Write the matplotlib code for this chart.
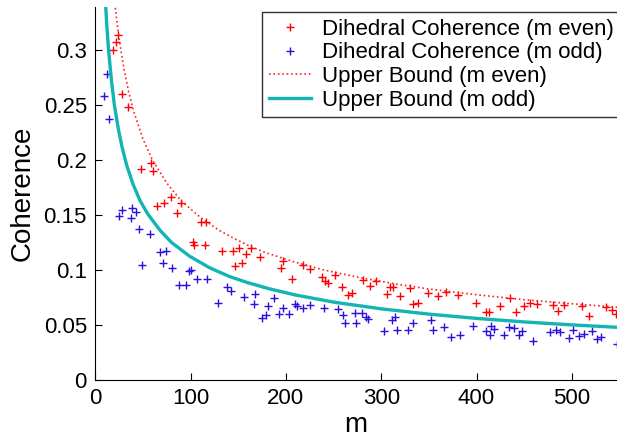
import matplotlib
matplotlib.use("Agg")
import matplotlib.pyplot as plt

plt.rcParams['font.family'] = ['Liberation Sans', 'DejaVu Sans']

# Dihedral coherence, m even (red +)
even_m = [18.3, 21.7, 23.5, 28.3, 34, 48, 58.5, 61, 65, 72, 79.4, 86, 89.6, 102, 104, 111, 115, 116,
          133, 145, 147, 151, 154, 158, 163, 173, 194.5, 197, 206.7, 218, 225, 237.5, 241, 244.5,
          251.5, 258.5, 265.5, 269, 281, 288, 295, 305.8, 309, 312.7, 319.7, 330, 333.7, 339,
          349.4, 360, 367.7, 381, 399, 410, 413.5, 424.7, 435, 441.5, 450, 456, 463, 480.6, 485,
          492, 511, 518, 535.6, 542, 546]
even_c = [0.300, 0.307, 0.314, 0.260, 0.248, 0.192, 0.197, 0.190, 0.1585, 0.1606, 0.1667, 0.152, 0.161,
          0.1257, 0.1227, 0.1433, 0.1227, 0.1433, 0.1176, 0.1176, 0.1039, 0.1203, 0.1067, 0.1145,
          0.1203, 0.112, 0.102, 0.1085, 0.0915, 0.1045, 0.1006, 0.0933, 0.0903, 0.0879, 0.0955,
          0.0848, 0.0773, 0.0794, 0.0909, 0.0855, 0.090, 0.0782, 0.0842, 0.0842, 0.0764, 0.0833,
          0.0691, 0.0703, 0.0788, 0.0764, 0.0803, 0.0773, 0.0697, 0.0621, 0.0621, 0.0673, 0.0742,
          0.0621, 0.0673, 0.0697, 0.0688, 0.0682, 0.0627, 0.0682, 0.0673, 0.0582, 0.0667, 0.0636,
          0.060]

# Dihedral coherence, m odd (blue +)
odd_m = [9, 12, 14.4, 25, 27.7, 37.5, 39, 43, 46, 49, 57, 68, 70.7, 74, 81, 88, 95, 98.8, 100.4, 107,
         117.5, 129, 138, 142.4, 156, 167, 168, 174.6, 179, 181.6, 188, 193, 197, 203.6, 210, 212,
         217.6, 225, 240, 255, 260, 262, 272, 274, 280, 284, 286.5, 303, 311, 314.5, 317, 327.8,
         333.7, 352, 354, 366, 373, 382.7, 396.7, 410, 414, 415, 418, 428.9, 434, 439, 444.6,
         447.4, 459, 477, 483, 488, 497, 501, 507.6, 512.8, 521.5, 526, 530.6, 547]
odd_c = [0.258, 0.278, 0.237, 0.149, 0.155, 0.147, 0.156, 0.153, 0.137, 0.105, 0.1327, 0.1167, 0.1067,
         0.1176, 0.1015, 0.0864, 0.0864, 0.0991, 0.100, 0.0915, 0.0915, 0.0697, 0.0848, 0.0812,
         0.0752, 0.0691, 0.0779, 0.0561, 0.0591, 0.0673, 0.0742, 0.0597, 0.0652, 0.0597, 0.0688,
         0.0673, 0.0652, 0.0682, 0.0652, 0.0642, 0.0591, 0.0515, 0.0612, 0.0515, 0.0612, 0.057,
         0.0552, 0.0445, 0.0545, 0.0576, 0.0455, 0.0455, 0.0515, 0.0545, 0.0455, 0.0485, 0.0388,
         0.0409, 0.0494, 0.0445, 0.0409, 0.049, 0.0464, 0.0409, 0.0479, 0.0476, 0.0409, 0.0448,
         0.0355, 0.0433, 0.0455, 0.0433, 0.0379, 0.0455, 0.0403, 0.0418, 0.0445, 0.037, 0.0394,
         0.0324]

# Upper bound curves
bound_even_m = [14, 18, 21, 25, 30, 35, 40, 50, 60, 75, 90, 110, 130, 145, 160, 178, 208, 240, 278,
                320, 348, 400, 450, 500, 550]
bound_even_c = [0.414, 0.365, 0.338, 0.310, 0.283, 0.262, 0.245, 0.219, 0.200, 0.179, 0.163, 0.148,
                0.136, 0.129, 0.1225, 0.116, 0.1075, 0.100, 0.093, 0.0866, 0.083, 0.0775, 0.073,
                0.0693, 0.066]
bound_odd_m = [10, 12, 14, 17, 20, 24, 28, 33, 40, 47, 55, 68, 80, 99, 120, 141, 160, 183, 210, 250,
               300, 350, 400, 450, 500, 550]
bound_odd_c = [0.354, 0.323, 0.299, 0.272, 0.250, 0.229, 0.212, 0.195, 0.177, 0.163, 0.151, 0.136,
               0.125, 0.1125, 0.102, 0.094, 0.0885, 0.0828, 0.0773, 0.0708, 0.0647, 0.0599, 0.056,
               0.0528, 0.0501, 0.0478]

W, H = 617, 441
fig = plt.figure(figsize=(W / 100, H / 100), dpi=100)
left_px, bottom_px, top_px = 95.3, 380, 7
ax = fig.add_axes([left_px / W, (H - bottom_px) / H, 1 - left_px / W, (bottom_px - top_px) / H])

ax.plot(even_m, even_c, '+', color='#ff0000', ms=6, mew=1.0, label='Dihedral Coherence (m even)')
ax.plot(odd_m, odd_c, '+', color='#2a0fe0', ms=6, mew=1.0, label='Dihedral Coherence (m odd)')
ax.plot(bound_even_m, bound_even_c, ':', color='#ff2020', lw=1.2, label='Upper Bound (m even)')
ax.plot(bound_odd_m, bound_odd_c, '-', color='#12b4b4', lw=2.4, label='Upper Bound (m odd)')

xmax = (W - left_px) / 0.953
ax.set_xlim(0, xmax)
ax.set_ylim(0, (bottom_px - top_px) / 1100)
ax.set_xticks([0, 100, 200, 300, 400, 500])
ax.set_yticks([0, 0.05, 0.1, 0.15, 0.2, 0.25, 0.3])
ax.set_yticklabels(['0', '0.05', '0.1', '0.15', '0.2', '0.25', '0.3'])
ax.tick_params(direction='in', length=5, width=0.8, labelsize=16, pad=6)
ax.spines['top'].set_visible(False)
ax.spines['right'].set_visible(False)
ax.set_xlabel('m', fontsize=20, labelpad=2)
ax.set_ylabel('Coherence', fontsize=20, labelpad=6)

leg = ax.legend(loc='upper right', bbox_to_anchor=((W + 4) / W, 1 - 12 / H), bbox_transform=fig.transFigure,
                fontsize=16, frameon=True, fancybox=False, edgecolor='black', handlelength=1.9,
                labelspacing=0.12, borderpad=0.3, handletextpad=0.5, borderaxespad=0)
leg.get_frame().set_linewidth(1.0)

fig.savefig('out.png', dpi=100)
